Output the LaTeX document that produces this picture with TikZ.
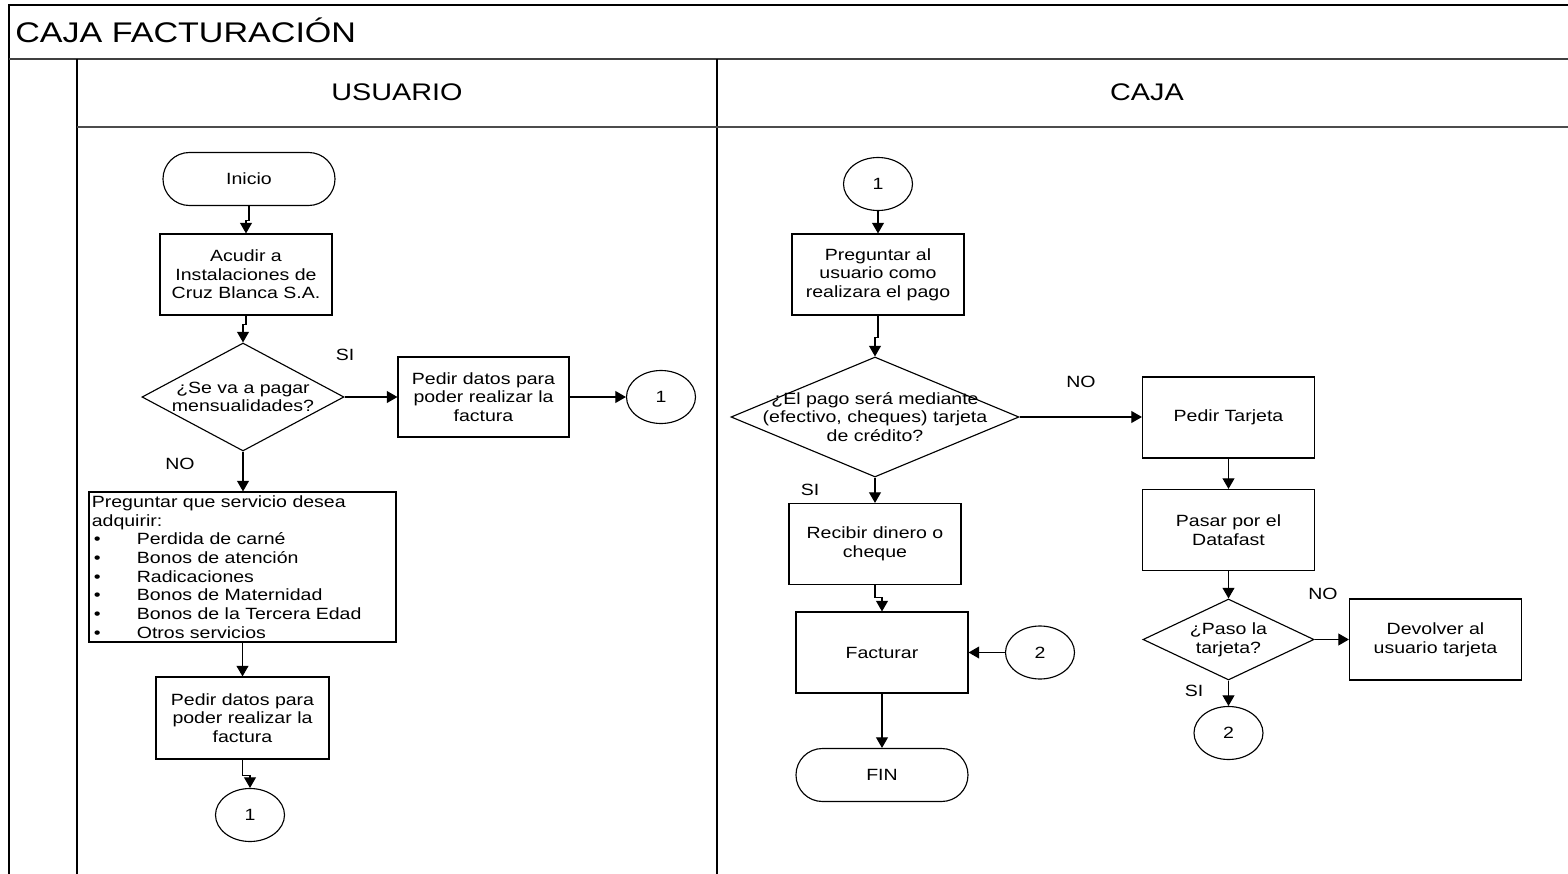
\documentclass[tikz,border=0pt]{standalone}
\usepackage{fontspec}
\setmainfont{Liberation Sans}[FakeStretch=1.2]
\usetikzlibrary{shapes.geometric,arrows.meta}
\begin{document}
\begin{tikzpicture}[x=0.75pt,y=-0.75pt,
  every node/.style={font=\fontsize{12.2}{14}\selectfont, inner sep=0pt},
  box/.style={draw, line width=0.85pt, minimum width=129pt, minimum height=60.75pt, align=center},
  term/.style={draw, line width=0.85pt, rounded corners=19.8pt, minimum width=129pt, minimum height=39.75pt},
  conn/.style={draw, ellipse, line width=0.85pt, minimum width=51.75pt, minimum height=39.75pt},
  dec/.style={draw, diamond, line width=0.85pt},
  flow/.style={line width=0.85pt, -{Triangle[length=8pt,width=9pt]}},
  lanetitle/.style={font=\fontsize{18}{21}\selectfont},
  lbl/.style={font=\fontsize{12.2}{14}\selectfont}
]
\useasboundingbox (0,0) rectangle (1568,874);
\clip (0,0) rectangle (1568,874);

% swimlane frame
\draw[line width=1pt] (9,890) -- (9,5) -- (1590,5);
\draw[line width=2pt, black!75] (9,59) -- (1590,59);
\draw[line width=1pt] (77,59) -- (77,890);
\draw[line width=1pt] (717,59) -- (717,890);
\draw[line width=1.2pt, black!70] (77,127) -- (1590,127);

\node[anchor=west, font=\fontsize{21.3}{24}\selectfont] (title) at (15,30) {CAJA FACTURACIÓN};
\node[lanetitle] (hu) at (397,92) {USUARIO};
\node[lanetitle] (hc) at (1147,92) {CAJA};

% lane: USUARIO
\node[term] (ini) at (249,179) {Inicio};
\node[box] (acu) at (246,274.5) {Acudir a\\Instalaciones de\\Cruz Blanca S.A.};
\node[dec, minimum width=151.5pt, minimum height=81pt,
      label={[align=center]center:{¿Se va a pagar\\mensualidades?}}] (d1) at (243,397) {};
\node[box, minimum width=128.25pt, minimum height=60pt] (pd1) at (483.5,397) {Pedir datos para\\poder realizar la\\factura};
\node[conn] (c1a) at (661,397) {1};
\node[box, minimum width=230.25pt, minimum height=112.5pt, align=left, text width=226pt] (lst) at (242.5,567)
  {Preguntar que servicio desea\\
   adquirir:\\
   \makebox[33.75pt][l]{\hspace{1.5pt}\textbullet}Perdida de carné\\
   \makebox[33.75pt][l]{\hspace{1.5pt}\textbullet}Bonos de atención\\
   \makebox[33.75pt][l]{\hspace{1.5pt}\textbullet}Radicaciones\\
   \makebox[33.75pt][l]{\hspace{1.5pt}\textbullet}Bonos de Maternidad\\
   \makebox[33.75pt][l]{\hspace{1.5pt}\textbullet}Bonos de la Tercera Edad\\
   \makebox[33.75pt][l]{\hspace{1.5pt}\textbullet}Otros servicios};
\node[box, minimum width=129.75pt, minimum height=61.5pt] (pd2) at (242.5,718) {Pedir datos para\\poder realizar la\\factura};
\node[conn] (c1b) at (250,815) {1};

\node[lbl] (si1) at (345,355) {SI};
\node[lbl] (no1) at (180,464) {NO};

\draw[flow] (ini.south) -- ++(0,14) -| (acu.north);
\draw[flow] (acu.south) -- ++(0,9) -| (d1.north);
\draw[flow] (d1.east) -- (d1.east -| pd1.west);
\draw[flow] (pd1.east) -- (pd1.east -| c1a.west);
\draw[flow] (d1.south) -- (d1.south |- lst.north);
\draw[flow] (lst.south) -- (lst.south |- pd2.north);
\draw[flow] (pd2.south) -- ++(0,16) -| (c1b.north);

% lane: CAJA
\node[conn] (c1c) at (878,184) {1};
\node[box] (preg) at (878,274.5) {Preguntar al\\usuario como\\realizara el pago};
\node[dec, minimum width=216pt, minimum height=90pt,
      label={[align=center]center:{¿El pago será mediante\\(efectivo, cheques) tarjeta\\de crédito?}}] (d2) at (875,417) {};
\node[box] (tar) at (1228.5,417.5) {Pedir Tarjeta};
\node[box] (rec) at (875,544) {Recibir dinero o\\cheque};
\node[box] (fac) at (882,652.5) {Facturar};
\node[conn] (c2a) at (1040,652.5) {2};
\node[term] (fin) at (882,775) {FIN};
\node[box] (dat) at (1228.5,530) {Pasar por el\\Datafast};
\node[dec, minimum width=128.25pt, minimum height=60.75pt,
      label={[align=center]center:{¿Paso la\\tarjeta?}}] (d3) at (1228.5,639.5) {};
\node[box] (dev) at (1435.5,639.5) {Devolver al\\usuario tarjeta};
\node[conn] (c2b) at (1228.5,733) {2};

\node[lbl] (no2) at (1081,382) {NO};
\node[lbl] (si2) at (810,490) {SI};
\node[lbl] (no3) at (1323,594) {NO};
\node[lbl] (si3) at (1194,691) {SI};

\draw[flow] (c1c.south) -- (preg.north);
\draw[flow] (preg.south) -- ++(0,22) -| (d2.north);
\draw[flow] (d2.east) -- (d2.east -| tar.west);
\draw[flow] (d2.south) -- (rec.north);
\draw[flow] (rec.south) -- ++(0,12) -| (fac.north);
\draw[flow] (c2a.west) -- (c2a.west -| fac.east);
\draw[flow] (fac.south) -- (fin.north);
\draw[flow] (tar.south) -- (dat.north);
\draw[flow] (dat.south) -- (d3.north);
\draw[flow] (d3.east) -- (dev.west);
\draw[flow] (d3.south) -- (c2b.north);
\end{tikzpicture}
\end{document}
